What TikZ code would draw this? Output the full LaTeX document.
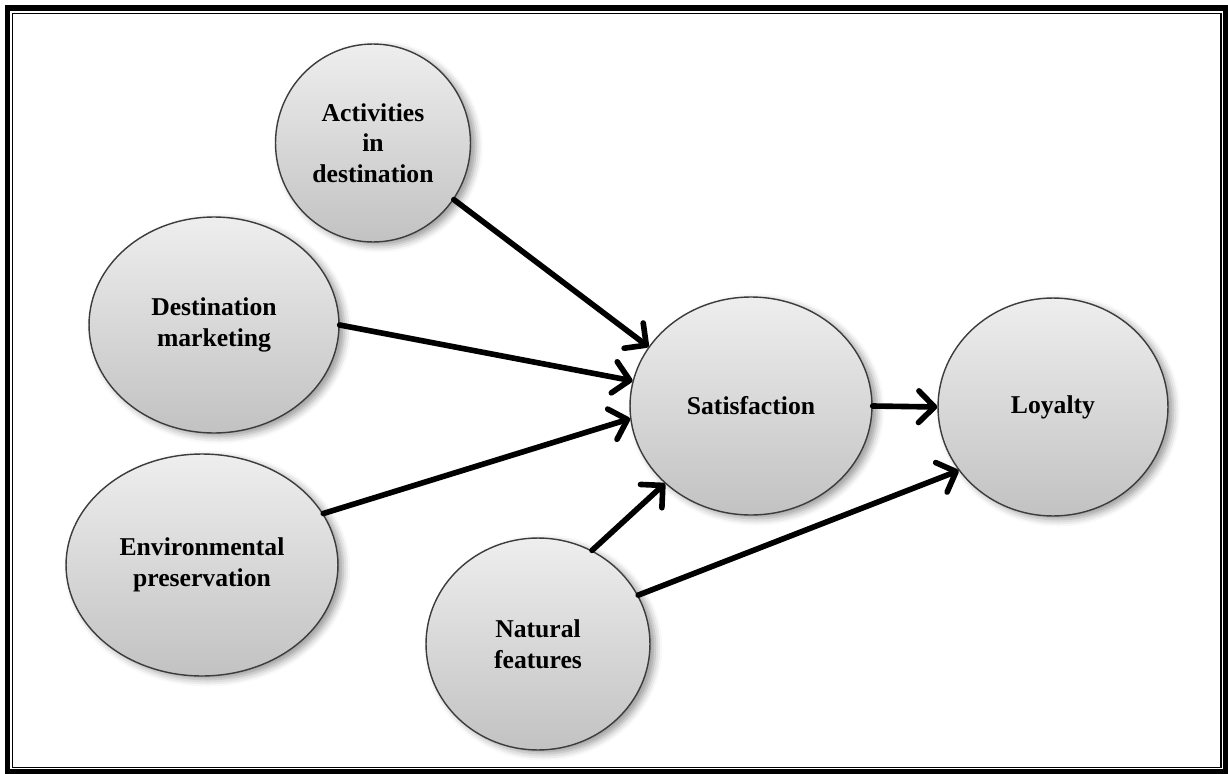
\documentclass[tikz,border=0pt]{standalone}
\usepackage{fontspec}
\setmainfont{Liberation Serif}
\usetikzlibrary{
    arrows.meta,
    shapes.geometric,
    shadows.blur
}
\definecolor{ovaltop}{RGB}{238,238,238}
\definecolor{ovalbot}{RGB}{194,194,194}
\definecolor{ovalline}{RGB}{60,60,60}

\begin{document}
\begin{tikzpicture}[x=0.02cm, y=-0.02cm,
    oval/.style={ellipse, draw=ovalline, line width=0.8pt,
        top color=ovaltop, bottom color=ovalbot, inner sep=0pt, align=center,
        font=\bfseries\fontsize{14.6}{17.5}\selectfont,
        blur shadow={shadow xshift=3pt, shadow yshift=-2pt,
            shadow blur radius=4pt, shadow opacity=40}},
    link/.style={line width=3.2pt, line cap=round,
        -{Straight Barb[round, length=9pt, width=18pt]}}]
    \useasboundingbox (0,0) rectangle (1228,774);

    % double frame
    \draw[line width=3pt] (7.5,8) rectangle (1225.5,771.5);
    \draw[line width=0.85pt] (12.5,13.5) rectangle (1221,767.5);

    \node[oval, minimum width=3.9cm, minimum height=3.96cm] (act) at (373,143) {Activities\\in\\destination};
    \node[oval, minimum width=5.0cm, minimum height=4.32cm] (dm) at (214,325) {Destination\\marketing};
    \node[oval, minimum width=5.44cm, minimum height=4.44cm] (env) at (202,565) {Environmental\\preservation};
    \node[oval, minimum width=4.84cm, minimum height=4.36cm] (sat) at (751,406) {Satisfaction};
    \node[oval, minimum width=4.6cm, minimum height=4.36cm] (loy) at (1053,407) {Loyalty};
    \node[oval, minimum width=4.48cm, minimum height=4.24cm] (nat) at (538,644) {Natural\\features};

    \draw[link] (act.-35) -- (sat.150);
    \draw[link] (dm.east) -- (sat.168);
    \draw[link] (env.23) -- (sat.186);
    \draw[link] (nat.60) -- (sat.222);
    \draw[link] (nat.26) -- (loy.214);
    \draw[link] (sat.east) -- (loy.west);
\end{tikzpicture}
\end{document}
